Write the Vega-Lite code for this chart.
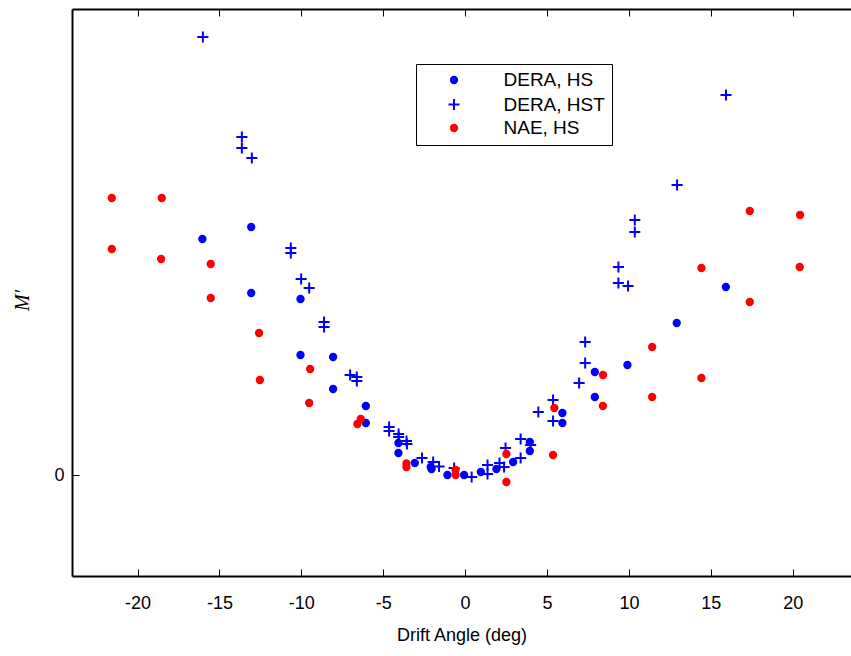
{
  "$schema": "https://vega.github.io/schema/vega-lite/v6.json",
  "width": 779,
  "height": 567,
  "autosize": {"type": "none"},
  "padding": {"left": 72, "top": 9, "right": 0, "bottom": 80},
  "background": "white",
  "config": {"view": {"stroke": null}, "font": "Liberation Sans"},
  "data": {"values": [
    {"series": "DERA, HS", "drift": -16.04, "m": 2.36},
    {"series": "DERA, HS", "drift": -13.06, "m": 2.48},
    {"series": "DERA, HS", "drift": -13.06, "m": 1.82},
    {"series": "DERA, HS", "drift": -10.05, "m": 1.76},
    {"series": "DERA, HS", "drift": -10.05, "m": 1.20},
    {"series": "DERA, HS", "drift": -8.06, "m": 1.18},
    {"series": "DERA, HS", "drift": -8.06, "m": 0.86},
    {"series": "DERA, HS", "drift": -6.06, "m": 0.69},
    {"series": "DERA, HS", "drift": -6.06, "m": 0.52},
    {"series": "DERA, HS", "drift": -4.07, "m": 0.32},
    {"series": "DERA, HS", "drift": -4.07, "m": 0.22},
    {"series": "DERA, HS", "drift": -3.07, "m": 0.12},
    {"series": "DERA, HS", "drift": -2.1, "m": 0.08},
    {"series": "DERA, HS", "drift": -2.05, "m": 0.06},
    {"series": "DERA, HS", "drift": -1.08, "m": 0.0},
    {"series": "DERA, HS", "drift": -0.06, "m": 0.0},
    {"series": "DERA, HS", "drift": 0.96, "m": 0.03},
    {"series": "DERA, HS", "drift": 1.91, "m": 0.06},
    {"series": "DERA, HS", "drift": 2.93, "m": 0.13},
    {"series": "DERA, HS", "drift": 3.95, "m": 0.33},
    {"series": "DERA, HS", "drift": 3.95, "m": 0.24},
    {"series": "DERA, HS", "drift": 5.94, "m": 0.62},
    {"series": "DERA, HS", "drift": 5.94, "m": 0.52},
    {"series": "DERA, HS", "drift": 7.92, "m": 1.03},
    {"series": "DERA, HS", "drift": 7.92, "m": 0.78},
    {"series": "DERA, HS", "drift": 9.91, "m": 1.10},
    {"series": "DERA, HS", "drift": 12.92, "m": 1.52},
    {"series": "DERA, HS", "drift": 15.92, "m": 1.88},
    {"series": "DERA, HST", "drift": -16.01, "m": 4.38},
    {"series": "DERA, HST", "drift": -13.63, "m": 3.38},
    {"series": "DERA, HST", "drift": -13.63, "m": 3.27},
    {"series": "DERA, HST", "drift": -13.02, "m": 3.17},
    {"series": "DERA, HST", "drift": -10.64, "m": 2.27},
    {"series": "DERA, HST", "drift": -10.64, "m": 2.22},
    {"series": "DERA, HST", "drift": -10.01, "m": 1.96},
    {"series": "DERA, HST", "drift": -9.52, "m": 1.87},
    {"series": "DERA, HST", "drift": -8.61, "m": 1.53},
    {"series": "DERA, HST", "drift": -8.61, "m": 1.48},
    {"series": "DERA, HST", "drift": -7.02, "m": 1.00},
    {"series": "DERA, HST", "drift": -6.61, "m": 0.98},
    {"series": "DERA, HST", "drift": -6.61, "m": 0.94},
    {"series": "DERA, HST", "drift": -4.64, "m": 0.48},
    {"series": "DERA, HST", "drift": -4.64, "m": 0.44},
    {"series": "DERA, HST", "drift": -4.06, "m": 0.41},
    {"series": "DERA, HST", "drift": -4.06, "m": 0.38},
    {"series": "DERA, HST", "drift": -3.58, "m": 0.34},
    {"series": "DERA, HST", "drift": -3.55, "m": 0.31},
    {"series": "DERA, HST", "drift": -2.63, "m": 0.17},
    {"series": "DERA, HST", "drift": -1.95, "m": 0.13},
    {"series": "DERA, HST", "drift": -1.59, "m": 0.085},
    {"series": "DERA, HST", "drift": -0.67, "m": 0.07},
    {"series": "DERA, HST", "drift": 0.40, "m": -0.02},
    {"series": "DERA, HST", "drift": 1.37, "m": 0.10},
    {"series": "DERA, HST", "drift": 1.37, "m": 0.01},
    {"series": "DERA, HST", "drift": 2.1, "m": 0.12},
    {"series": "DERA, HST", "drift": 2.38, "m": 0.08},
    {"series": "DERA, HST", "drift": 2.47, "m": 0.27},
    {"series": "DERA, HST", "drift": 3.39, "m": 0.36},
    {"series": "DERA, HST", "drift": 3.39, "m": 0.17},
    {"series": "DERA, HST", "drift": 4.0, "m": 0.30},
    {"series": "DERA, HST", "drift": 4.47, "m": 0.63},
    {"series": "DERA, HST", "drift": 5.37, "m": 0.75},
    {"series": "DERA, HST", "drift": 5.37, "m": 0.54},
    {"series": "DERA, HST", "drift": 6.96, "m": 0.92},
    {"series": "DERA, HST", "drift": 7.33, "m": 1.33},
    {"series": "DERA, HST", "drift": 7.33, "m": 1.12},
    {"series": "DERA, HST", "drift": 9.36, "m": 2.08},
    {"series": "DERA, HST", "drift": 9.36, "m": 1.92},
    {"series": "DERA, HST", "drift": 9.95, "m": 1.89},
    {"series": "DERA, HST", "drift": 10.36, "m": 2.55},
    {"series": "DERA, HST", "drift": 10.36, "m": 2.43},
    {"series": "DERA, HST", "drift": 12.94, "m": 2.90},
    {"series": "DERA, HST", "drift": 15.93, "m": 3.80},
    {"series": "NAE, HS", "drift": -21.57, "m": 2.77},
    {"series": "NAE, HS", "drift": -18.52, "m": 2.77},
    {"series": "NAE, HS", "drift": -21.57, "m": 2.26},
    {"series": "NAE, HS", "drift": -18.56, "m": 2.16},
    {"series": "NAE, HS", "drift": -15.53, "m": 2.11},
    {"series": "NAE, HS", "drift": -15.53, "m": 1.77},
    {"series": "NAE, HS", "drift": -12.58, "m": 1.42},
    {"series": "NAE, HS", "drift": -12.53, "m": 0.95},
    {"series": "NAE, HS", "drift": -9.46, "m": 1.06},
    {"series": "NAE, HS", "drift": -9.52, "m": 0.72},
    {"series": "NAE, HS", "drift": -6.37, "m": 0.56},
    {"series": "NAE, HS", "drift": -6.58, "m": 0.51},
    {"series": "NAE, HS", "drift": -3.58, "m": 0.115},
    {"series": "NAE, HS", "drift": -3.58, "m": 0.08},
    {"series": "NAE, HS", "drift": -0.58, "m": 0.05},
    {"series": "NAE, HS", "drift": -0.58, "m": 0.0},
    {"series": "NAE, HS", "drift": 2.52, "m": 0.21},
    {"series": "NAE, HS", "drift": 2.52, "m": -0.07},
    {"series": "NAE, HS", "drift": 5.37, "m": 0.20},
    {"series": "NAE, HS", "drift": 5.45, "m": 0.67},
    {"series": "NAE, HS", "drift": 8.41, "m": 0.69},
    {"series": "NAE, HS", "drift": 8.42, "m": 1.00},
    {"series": "NAE, HS", "drift": 11.42, "m": 1.28},
    {"series": "NAE, HS", "drift": 11.42, "m": 0.78},
    {"series": "NAE, HS", "drift": 14.43, "m": 2.07},
    {"series": "NAE, HS", "drift": 14.43, "m": 0.97},
    {"series": "NAE, HS", "drift": 17.38, "m": 2.64},
    {"series": "NAE, HS", "drift": 17.38, "m": 1.73},
    {"series": "NAE, HS", "drift": 20.45, "m": 2.60},
    {"series": "NAE, HS", "drift": 20.43, "m": 2.08}
  ]},
  "layer": [
    {
      "mark": {"type": "point", "opacity": 0},
      "encoding": {
        "x": {"field": "drift", "type": "quantitative",
          "scale": {"domain": [-24, 23.56], "nice": false, "zero": false},
          "axis": {"orient": "top", "values": [-20, -15, -10, -5, 0, 5, 10, 15, 20], "labels": false, "title": null, "grid": false,
            "domainColor": "black", "domainWidth": 2, "tickColor": "black", "tickSize": -7, "tickWidth": 1}},
        "y": {"field": "m", "type": "quantitative", "scale": {"domain": [-1.01, 4.66], "nice": false, "zero": false},
          "axis": {"orient": "left", "values": [0], "grid": false, "labelExpr": "'' + datum.value",
            "domainColor": "black", "domainWidth": 2, "tickColor": "black", "tickSize": -7, "tickWidth": 1,
            "labelFont": "Liberation Sans", "labelFontSize": 18, "labelColor": "black", "labelPadding": 15,
            "title": "M′", "titleFont": "Liberation Serif", "titleFontStyle": "italic", "titleFontSize": 20,
            "titleFontWeight": "normal", "titleColor": "black", "titleX": -50, "titleY": 291,
            "titleAngle": -90, "titleAlign": "center", "titleBaseline": "middle"}}
      }
    },
    {
      "mark": {"type": "point", "opacity": 1, "strokeWidth": 2, "size": 40},
      "encoding": {
        "x": {"field": "drift", "type": "quantitative",
          "scale": {"domain": [-24, 23.56], "nice": false, "zero": false},
          "axis": {"orient": "bottom", "values": [-20, -15, -10, -5, 0, 5, 10, 15, 20], "grid": false,
            "labelExpr": "'' + datum.value", "labelFlush": false, "labelOverlap": false,
            "domainColor": "black", "domainWidth": 2, "tickColor": "black", "tickSize": -7, "tickWidth": 1,
            "labelFont": "Liberation Sans", "labelFontSize": 18, "labelColor": "black", "labelPadding": 25,
            "title": "Drift Angle (deg)", "titleFont": "Liberation Sans", "titleFontSize": 18, "titleFontWeight": "normal",
            "titleColor": "black", "titlePadding": 14}},
        "y": {"field": "m", "type": "quantitative",
          "scale": {"domain": [-1.01, 4.66], "nice": false, "zero": false},
          "axis": {"orient": "left", "values": [0], "grid": false, "labelExpr": "'' + datum.value",
            "domainColor": "black", "domainWidth": 2, "tickColor": "black", "tickSize": -7, "tickWidth": 1,
            "labelFont": "Liberation Sans", "labelFontSize": 18, "labelColor": "black", "labelPadding": 15,
            "title": "M′", "titleFont": "Liberation Serif", "titleFontStyle": "italic", "titleFontSize": 20,
            "titleFontWeight": "normal", "titleColor": "black", "titleX": -50, "titleY": 291,
            "titleAngle": -90, "titleAlign": "center", "titleBaseline": "middle"}},
        "shape": {"field": "series", "type": "nominal",
          "scale": {"domain": ["DERA, HS", "DERA, HST", "NAE, HS"], "range": ["circle", "M-1.75,0H1.75M0,-1.75V1.75", "circle"]},
          "legend": {"title": null, "orient": "none", "legendX": 344, "legendY": 55, "padding": 6.5,
            "strokeColor": "black", "fillColor": "white",
            "symbolOffset": 22, "labelOffset": 40, "rowPadding": 3.5, "symbolSize": 40, "symbolStrokeWidth": 2,
            "labelFont": "Liberation Sans", "labelFontSize": 19, "labelColor": "black",
            "encode": {"legend": {"update": {"strokeWidth": {"value": 1.5}}}}}},
        "stroke": {"field": "series", "type": "nominal",
          "scale": {"domain": ["DERA, HS", "DERA, HST", "NAE, HS"], "range": ["#0000ff", "#0000ff", "#ff0000"]},
          "legend": {"title": null, "orient": "none", "legendX": 344, "legendY": 55, "padding": 6.5,
            "strokeColor": "black", "fillColor": "white",
            "symbolOffset": 22, "labelOffset": 40, "rowPadding": 3.5, "symbolSize": 40, "symbolStrokeWidth": 2,
            "labelFont": "Liberation Sans", "labelFontSize": 19, "labelColor": "black",
            "encode": {"legend": {"update": {"strokeWidth": {"value": 1.5}}}}}},
        "fill": {"field": "series", "type": "nominal",
          "scale": {"domain": ["DERA, HS", "DERA, HST", "NAE, HS"], "range": ["#0000ff", "transparent", "#ff0000"]},
          "legend": {"title": null, "orient": "none", "legendX": 344, "legendY": 55, "padding": 6.5,
            "strokeColor": "black", "fillColor": "white",
            "symbolOffset": 22, "labelOffset": 40, "rowPadding": 3.5, "symbolSize": 40, "symbolStrokeWidth": 2,
            "labelFont": "Liberation Sans", "labelFontSize": 19, "labelColor": "black",
            "encode": {"legend": {"update": {"strokeWidth": {"value": 1.5}}}}}}
      }
    }
  ],
  "resolve": {"axis": {"x": "independent"}}
}
